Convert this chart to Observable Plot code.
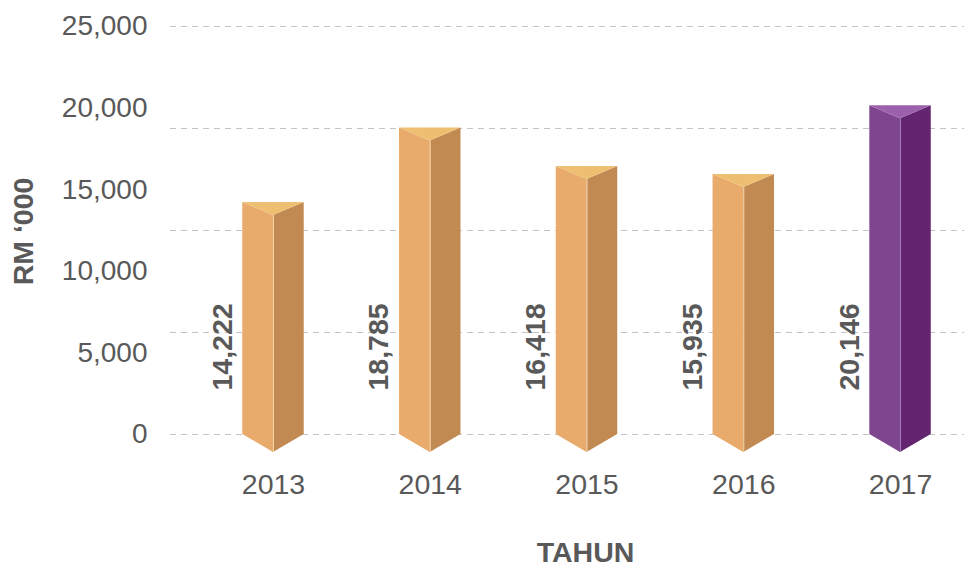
<!DOCTYPE html>
<html>
<head>
<meta charset="utf-8">
<script src="https://cdn.jsdelivr.net/npm/d3@7"></script>
<script src="https://cdn.jsdelivr.net/npm/@observablehq/plot@0.6"></script>
<style>
  html, body { margin: 0; padding: 0; background: #fff; }
</style>
</head>
<body>
<div id="chart"></div>
<script>
// ---- data ----
const years = [2013, 2014, 2015, 2016, 2017];
const values = [14222, 18785, 16418, 15935, 20146];
const yTicks = [0, 5000, 10000, 15000, 20000, 25000];
const gridValues = [0, 6250, 12500, 18750, 25000];
const highlightYear = 2017;
const yTitle = "RM ‘000";
const xTitle = "TAHUN";

// ---- style ----
const palette = {
  normal: { left: "#E9AB6B", right: "#C18A52", top: "#EEBF70", edge: "#F5D5A8" },
  highlight: { left: "#7F4690", right: "#632570", top: "#9C60AC", edge: "#A97BB8" }
};
const halfWidth = 0.196;   // half bar width in x units
const topDepth = 800;      // visual depth of the top in y units
const bottomDepth = 1100;  // visual depth of the bottom in y units
const textColor = "#595959";
const fmt = d3.format(",");

const bars = years.map((year, i) => ({ year, value: values[i], colors: year === highlightYear ? palette.highlight : palette.normal }));

const faces = [];
for (const b of bars) {
  const { year: x, value: v, colors: c } = b;
  faces.push({ id: x + "L", x: x - halfWidth, y1: 0, y2: v, fill: c.left });
  faces.push({ id: x + "L", x: x, y1: -bottomDepth, y2: v - topDepth, fill: c.left });
  faces.push({ id: x + "R", x: x, y1: -bottomDepth, y2: v - topDepth, fill: c.right });
  faces.push({ id: x + "R", x: x + halfWidth, y1: 0, y2: v, fill: c.right });
  faces.push({ id: x + "T", x: x - halfWidth, y1: v, y2: v, fill: c.top });
  faces.push({ id: x + "T", x: x, y1: v - topDepth, y2: v, fill: c.top });
  faces.push({ id: x + "T", x: x + halfWidth, y1: v, y2: v, fill: c.top });
}

const chart = Plot.plot({
  width: 964,
  height: 566,
  marginLeft: 170,
  marginRight: 0,
  marginTop: 26,
  marginBottom: 132,
  style: { fontFamily: "'Liberation Sans', Arial, sans-serif", background: "#fff", overflow: "visible" },
  x: { domain: [2012.343, 2017.408] },
  y: { domain: [0, 25000] },
  color: { type: "identity" },
  marks: [
    Plot.ruleY(gridValues, { y: d => d, stroke: "#c4c4c4", strokeWidth: 1, strokeDasharray: "6,5" }),
    Plot.axisY({ ticks: yTicks, tickFormat: fmt, tickSize: 0, tickPadding: 23, fontSize: 28, fill: textColor, label: null }),
    Plot.axisX({ ticks: years, tickFormat: d => String(d), tickSize: 0, tickPadding: 39, fontSize: 28.5, fill: textColor, label: null }),
    Plot.area(faces, { x1: "x", y1: "y1", y2: "y2", z: "id", fill: "fill" }),
    Plot.ruleX(bars, { x: "year", y1: -bottomDepth, y2: d => d.value - topDepth, stroke: d => d.colors.edge, strokeWidth: 1 }),
    Plot.text(bars, { x: "year", y: 0, text: d => fmt(d.value), rotate: -90, textAnchor: "start", lineAnchor: "middle", dx: -51, dy: -44, fontSize: 28.5, fontWeight: "bold", fill: textColor }),
    Plot.text([yTitle], { text: d => d, frameAnchor: "left", textAnchor: "middle", lineAnchor: "middle", dx: -147, dy: 1, rotate: -90, fontSize: 28.5, fontWeight: "bold", fill: textColor }),
    Plot.text([xTitle], { text: d => d, frameAnchor: "bottom", textAnchor: "middle", dx: 18, dy: 118, lineAnchor: "middle", fontSize: 28.5, fontWeight: "bold", fill: textColor })
  ]
});
document.getElementById("chart").appendChild(chart);
</script>
</body>
</html>
